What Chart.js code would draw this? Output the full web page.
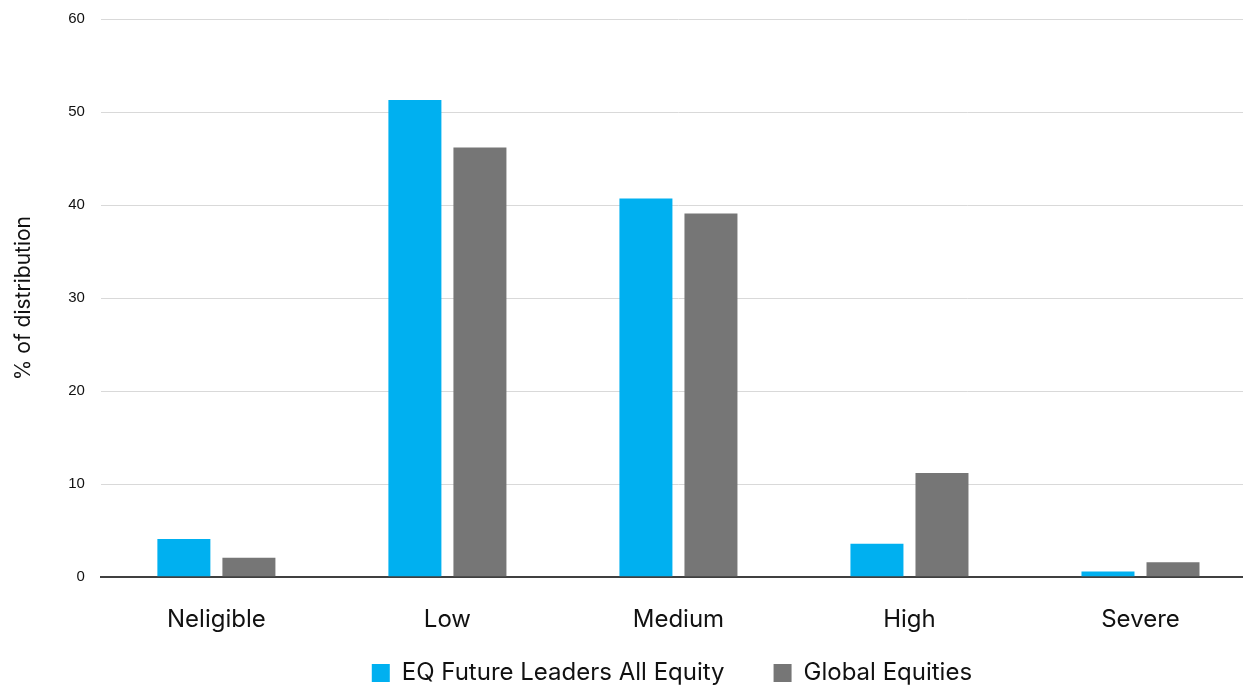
<!DOCTYPE html>
<html>
<head>
<meta charset="utf-8">
<script src="https://cdn.jsdelivr.net/npm/chart.js@4"></script>
<style>
  html, body { margin: 0; padding: 0; background: #fff; overflow: hidden; }
  /* the plot runs a little past the right edge of the picture, as in the original */
  #wrap { width: 1256px; height: 686px; }
</style>
</head>
<body>
<div id="wrap"><canvas id="chart"></canvas></div>
<script>
const categories = ['Neligible', 'Low', 'Medium', 'High', 'Severe'];
const futureLeaders = [4.1, 51.3, 40.7, 3.6, 0.6];
const globalEquities = [2.1, 46.2, 39.1, 11.2, 1.6];
const yTicks = [0, 10, 20, 30, 40, 50, 60];

const labelFont = 'Inter, "Open Sans", sans-serif';
const legendGap = 49;
const visibleWidth = 1243;

// legend padding sets the gap between items, but it also adds space above
// the row; cut that space and centre the legend under the visible plot
const legendTrim = {
    id: 'legendTrim',
    beforeInit(chart) {
        const legend = chart.legend;
        const fit = legend.fit;
        legend.fit = function () {
            fit.call(this);
            this.height -= legendGap + 2;
        };
        const draw = legend.draw;
        legend.draw = function () {
            const dx = (chart.chartArea.left + visibleWidth) / 2 - (this.left + this.right) / 2;
            const dy = legendGap - 7;
            this.top -= dy;
            this.left += dx;
            this.right += dx;
            draw.call(this);
            this.top += dy;
            this.left -= dx;
            this.right -= dx;
        };
    }
};

new Chart(document.getElementById('chart'), {
    type: 'bar',
    data: {
        labels: categories,
        datasets: [{
            label: 'EQ Future Leaders All Equity',
            data: futureLeaders,
            backgroundColor: '#00b0f0',
        }, {
            label: 'Global Equities',
            data: globalEquities,
            backgroundColor: '#767676',
        }]
    },
    plugins: [legendTrim],
    options: {
        responsive: true,
        maintainAspectRatio: false,
        animation: false,
        categoryPercentage: 0.563,
        barPercentage: 0.815,
        layout: { padding: { top: 0, right: 0, left: 7, bottom: 0 } },
        plugins: {
            legend: {
                position: 'bottom',
                labels: {
                    boxWidth: 18,
                    boxHeight: 18,
                    padding: legendGap,
                    color: '#111',
                    font: { family: labelFont, size: 24 }
                }
            },
            tooltip: { enabled: false }
        },
        scales: {
            x: {
                grid: { display: false },
                border: { color: '#404040', width: 2 },
                ticks: {
                    color: '#111',
                    padding: 20,
                    font: { family: labelFont, size: 24 }
                }
            },
            y: {
                min: 0,
                max: 60,
                afterBuildTicks: axis => { axis.ticks = yTicks.map(v => ({ value: v })); },
                border: { display: false },
                grid: {
                    color: ctx => ctx.tick.value === 0 ? '#404040' : '#d9d9d9',
                    lineWidth: ctx => ctx.tick.value === 0 ? 2 : 1,
                    tickLength: 6,
                    tickColor: 'rgba(0,0,0,0)'
                },
                ticks: {
                    color: '#111',
                    padding: 10,
                    font: { family: '"Liberation Sans", Arial, sans-serif', size: 15 }
                },
                title: {
                    display: true,
                    text: '% of distribution',
                    color: '#111',
                    padding: { bottom: 22 },
                    font: { family: labelFont, size: 21 }
                }
            }
        }
    }
});
</script>
</body>
</html>
